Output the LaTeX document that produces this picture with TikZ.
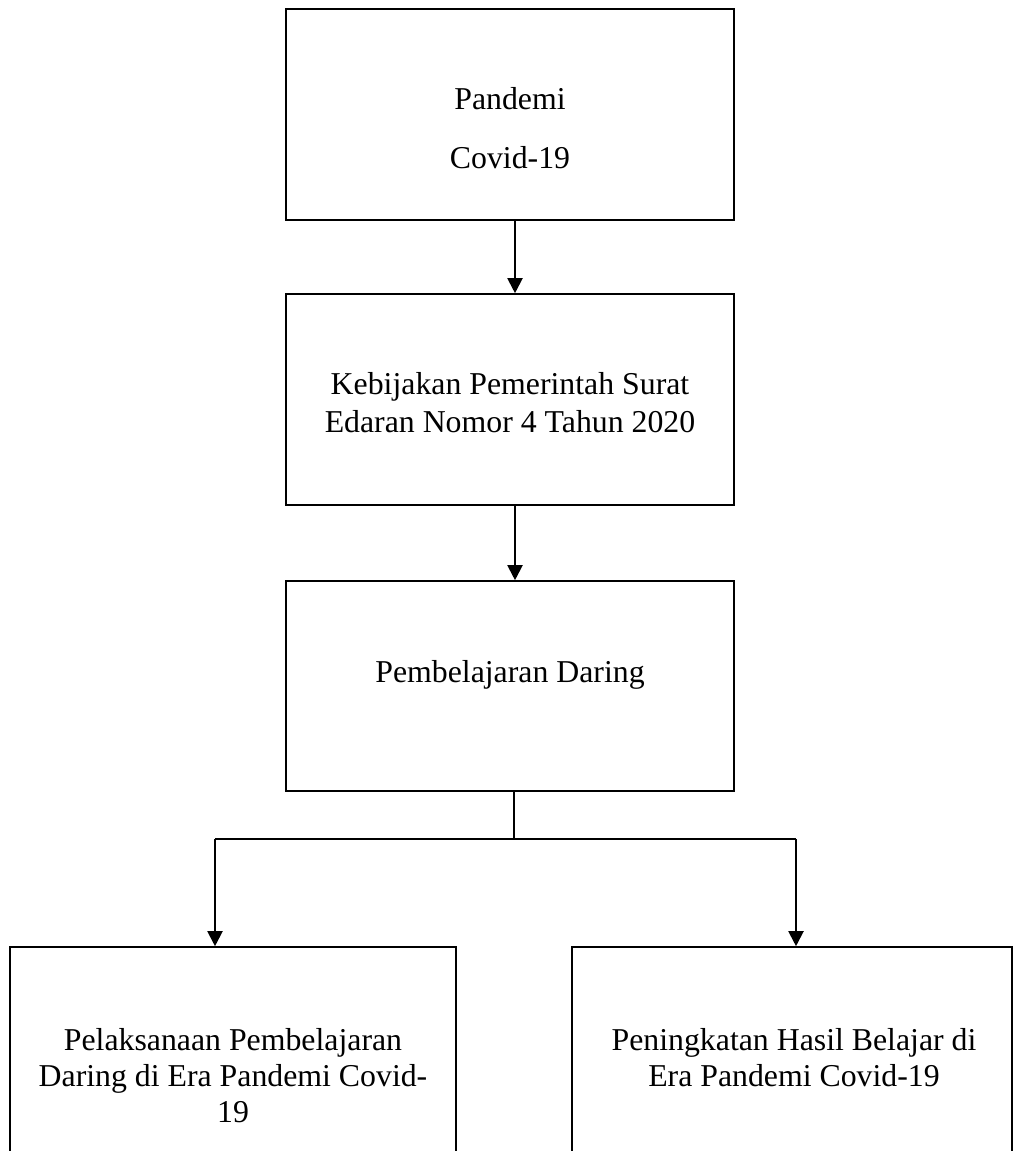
\documentclass[tikz,border=0pt]{standalone}
\usepackage{fontspec}
\setmainfont{Liberation Serif}
\usetikzlibrary{arrows.meta}
\tikzset{
  box/.style={draw=black, line width=1.6pt, rectangle, inner sep=0pt},
  txt/.style={anchor=base, inner sep=0pt, font=\fontsize{31.8pt}{37pt}\selectfont},
  link/.style={draw=black, line width=2pt},
  thinlink/.style={draw=black, line width=1.2pt},
  arr/.style={link, -{Triangle[width=15pt,length=15pt]}}
}
\begin{document}
\begin{tikzpicture}[x=1pt, y=-1pt]
\path[use as bounding box, clip] (0,0) rectangle (1014,1151);
\fill[white] (0,0) rectangle (1014,1151);
% boxes
\node[box, minimum width=448pt, minimum height=211pt] (b1) at (510,114.5) {};
\node[box, minimum width=448pt, minimum height=211pt] (b2) at (510,399.5) {};
\node[box, minimum width=448pt, minimum height=210pt] (b3) at (510,686) {};
\node[box, minimum width=446pt, minimum height=223pt] (b4) at (233,1058.5) {};
\node[box, minimum width=440pt, minimum height=223pt] (b5) at (792,1058.5) {};
% texts
\node[txt] (t1a) at (510,109) {Pandemi};
\node[txt] (t1b) at (510,168) {Covid-19};
\node[txt] (t2a) at (510,394) {Kebijakan Pemerintah Surat};
\node[txt] (t2b) at (510,432) {Edaran Nomor 4 Tahun 2020};
\node[txt] (t3) at (510,682) {Pembelajaran Daring};
\node[txt] (t4a) at (233,1050) {Pelaksanaan Pembelajaran};
\node[txt] (t4b) at (233,1086) {Daring di Era Pandemi Covid-};
\node[txt] (t4c) at (233,1122) {19};
\node[txt] (t5a) at (794,1050) {Peningkatan Hasil Belajar di};
\node[txt] (t5b) at (794,1086) {Era Pandemi Covid-19};
% connectors
\coordinate (jm) at (514,839);
\coordinate (jl) at (215,839);
\coordinate (jr) at (796,839);
\draw[arr] ([xshift=5pt]b1.south) -- ([xshift=5pt]b2.north);
\draw[arr] ([xshift=5pt]b2.south) -- ([xshift=5pt]b3.north);
\draw[thinlink] (b3.south -| jm) -- (jm);
\draw[link] (jl) -- (jr);
\draw[arr] (jl) -- (b4.north -| jl);
\draw[arr] (jr) -- (b5.north -| jr);
\end{tikzpicture}
\end{document}
